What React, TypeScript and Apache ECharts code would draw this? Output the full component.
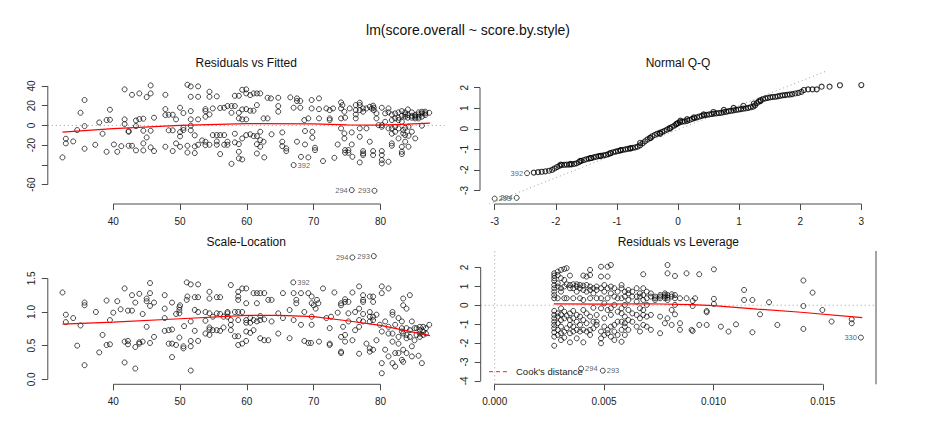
import React, { useEffect, useRef } from "react";
import * as echarts from "echarts";

const FONT = '"Liberation Sans", Arial, Helvetica, sans-serif';

const mainTitle = "lm(score.overall ~ score.by.style)";
const panelTitles = ["Residuals vs Fitted", "Normal Q-Q", "Scale-Location", "Residuals vs Leverage"];

// ---------- Panel 1: Residuals vs Fitted ----------
const fittedTicks = [40, 50, 60, 70, 80];
const residTicks = [-60, -40, -20, 0, 20, 40];
const residTickLabels = [-60, -20, 0, 20, 40];
// [fitted, residuals at that fitted value]
const residVsFitted: [number, number[]][] = [
  [32.4, [-32.4]], [32.9, [-13.5, -18.2]], [34.0, [-16.2]], [34.6, [-4.7]], [35.1, [12.8]],
  [35.7, [25.7, -0.7, -23.6]], [37.3, [-19.6]], [37.9, [3.0]], [38.4, [-8.4]], [39.0, [-26.7, 5.4]],
  [39.5, [5.7, 15.9]], [40.1, [-19.3]], [40.6, [-26.7]], [41.2, [-21.0]], [41.7, [36.5, 6.1, 1.4]],
  [42.3, [-5.7, -6.5, -20.6]], [42.8, [31.0, -20.6]], [43.4, [5.0, -0.7, -25.3]], [43.9, [32.4, 6.4]],
  [44.5, [6.8, -5.4, -25.3, -18.2]], [45.0, [28.7, -12.2]], [45.6, [40.5, 32.4, -5.4, -22.3]],
  [46.1, [7.8, -26.0]], [47.8, [31.0, 16.5, 10.5, -21.6]], [48.3, [10.8, -5.0]], [48.9, [10.8, -5.0, -26.0]],
  [49.4, [6.1, -18.2]], [50.0, [17.9, -6.8, -11.1, -21.6]], [50.5, [12.5, -4.7, -2.4]],
  [51.1, [41.2, -20.6, -27.4]], [51.6, [39.5, 29.0, 14.5, 6.1, -0.3, -5.0]], [52.2, [-10.1, -21.3, -28.0]],
  [52.7, [39.5, 29.0, 6.1, -19.6]], [53.3, [-15.2]], [53.8, [16.5, 14.5, 8.8, -16.5, -20.0]],
  [54.4, [34.1, 29.0, 11.1, -19.6]], [54.9, [17.2, -9.8]], [55.5, [29.4, -9.8, -16.2, -19.6]],
  [56.0, [17.6, -9.8, -29.0]], [56.6, [17.9, -9.8, -19.6]], [57.1, [19.6, -16.5, -19.6]],
  [57.7, [19.6, 12.8, -38.9]], [58.2, [19.6, 30.0, -8.4, -17.2]], [58.8, [30.0, 12.8, 7.1, -18.9, -26.7, -33.4]],
  [59.3, [36.1, 16.2, 6.1, -13.2, -34.5]], [59.9, [36.5, 32.4, -9.8, 16.5, 6.1]], [60.5, [30.7, 14.9, -9.0]],
  [61.0, [32.4, 14.9, -10.8]], [61.5, [32.4, 20.6, -10.8, -19.0, -28.4]], [62.0, [32.4, -6.4, -14.9, -21.6]],
  [62.5, [7.1, -16.5]], [62.6, [-32.4]], [63.1, [7.1, 28.0]], [63.6, [27.4]], [63.7, [-9.0]],
  [64.7, [28.0, 19.6, 13.9]], [65.3, [-7.1, -16.5, -21.0]], [65.9, [-23.3, -26.0]], [66.5, [28.4]],
  [67.0, [17.9]], [67.5, [27.4, 24.7, -16.5]], [68.0, [24.7, 17.9]], [68.1, [-31.8]], [68.6, [5.4]],
  [68.7, [-5.7, -19.3]], [69.2, [-32.4, 7.1]], [69.7, [25.7, 17.2]], [69.8, [-6.4, -12.5]],
  [70.2, [-22.6, -25.0]], [70.8, [27.4, 16.5, 7.1]], [71.4, [-36.1]], [71.9, [17.2]], [72.4, [15.5, 7.1, 5.4]],
  [72.9, [17.2]], [73.1, [-32.8]], [73.6, [-19.3]], [74.1, [23.3, 17.2, 7.1, -3.0]], [74.3, [20.6]],
  [74.6, [13.9, -8.1, -13.2]], [74.7, [7.8, -25.0, -27.7]], [75.2, [-25.0, -27.7]], [75.4, [17.2]],
  [75.7, [-19.3, -7.1]], [75.8, [-31.8]], [76.3, [20.6, 15.5, 11.1, 7.1]],
  [76.9, [23.0, 20.6, 15.5, -3.0, -11.5, -37.5]], [77.4, [17.2, 13.9, -26.0, -28.4, -30.0]],
  [77.9, [17.2, -3.0]], [78.4, [18.9, -16.5]], [78.7, [17.0]], [78.9, [20.0, -26.0, -30.0]], [79.0, [18.0, 15.5]],
  [79.4, [12.2, 7.1]], [79.7, [0.3]], [80.2, [17.9, 0.3, -1.4, -26.0, -30.0, -35.1, -38.5]], [80.7, [12.2, 3.7]],
  [81.2, [17.2, 13.2, -3.0, -36.8]], [81.7, [11.1, 5.4, -3.0, -8.4, -18.2, -20.6]], [82.2, [12.2, 7.1, -1.4, -6.4]],
  [82.7, [13.2, 7.8, 5.4, -3.0, -13.2]], [83.2, [14.5, 9.8, 3.7, -21.6, -26.7, -29.0]], [83.4, [-4.7, -8.1]],
  [83.7, [13.2, 11.1, 8.8, -2.4, -9.8, -16.5]], [84.1, [16.2, 10.5, 7.8]], [84.2, [-1.4, -10.5, -21.6]],
  [84.7, [13.2, 9.8, 7.8, -6.4]], [85.2, [10.5, 8.8, 7.1, -13.2]], [85.7, [13.2, 11.1, 8.8, 7.1]],
  [86.2, [13.9, 12.2, 8.8, -0.3]], [86.7, [13.9, 12.2, 10.5]], [87.3, [12.8]],
];
const residVsFittedIds = [
  { name: "392", value: [67.0, -40.2], side: "right" },
  { name: "294", value: [75.7, -65.5], side: "left" },
  { name: "293", value: [79.1, -66.2], side: "left" },
];
const residLowess = [[32.4, -6.8], [40, -3.2], [50, 0], [60, 1.8], [70, 1.5], [75, 0.5], [80, 0.3], [84, 1.2], [87.4, 2.4]];

// ---------- Panel 2: Normal Q-Q ----------
const qqTicksX = [-3, -2, -1, 0, 1, 2, 3];
const qqTicksY = [-3, -2, -1, 0, 1, 2];
const qqPoints = [
  [-2.36, -2.13], [-2.29, -2.11], [-2.23, -2.09], [-2.17, -2.07], [-2.11, -2.04], [-2.06, -2.0], [-2.02, -1.93],
  [-1.98, -1.86], [-1.94, -1.8], [-1.92, -1.74], [-1.9, -1.76], [-1.86, -1.75], [-1.82, -1.74], [-1.78, -1.74],
  [-1.76, -1.71], [-1.74, -1.73], [-1.7, -1.71], [-1.66, -1.68], [-1.62, -1.62], [-1.6, -1.56], [-1.58, -1.56],
  [-1.54, -1.52], [-1.5, -1.48], [-1.46, -1.45], [-1.43, -1.43], [-1.42, -1.42], [-1.38, -1.39], [-1.34, -1.36],
  [-1.3, -1.33], [-1.27, -1.33], [-1.26, -1.31], [-1.22, -1.29], [-1.18, -1.27], [-1.14, -1.23], [-1.11, -1.19],
  [-1.1, -1.18], [-1.06, -1.14], [-1.02, -1.11], [-0.98, -1.08], [-0.94, -1.05], [-0.94, -1.04], [-0.9, -1.02],
  [-0.86, -1.0], [-0.82, -0.98], [-0.78, -0.94], [-0.78, -0.96], [-0.74, -0.93], [-0.7, -0.9], [-0.66, -0.87],
  [-0.62, -0.8], [-0.62, -0.68], [-0.58, -0.71], [-0.54, -0.61], [-0.5, -0.52], [-0.46, -0.44], [-0.45, -0.45],
  [-0.42, -0.36], [-0.38, -0.3], [-0.34, -0.24], [-0.29, -0.24], [-0.3, -0.2], [-0.26, -0.15], [-0.22, -0.1],
  [-0.18, -0.04], [-0.14, 0.03], [-0.13, 0.01], [-0.1, 0.09], [-0.06, 0.16], [-0.03, 0.22], [-0.02, 0.25],
  [0.0, 0.28], [0.03, 0.32], [0.04, 0.4], [0.07, 0.35], [0.11, 0.36], [0.15, 0.39], [0.15, 0.47], [0.19, 0.43],
  [0.23, 0.48], [0.26, 0.56], [0.27, 0.52], [0.31, 0.56], [0.35, 0.6], [0.39, 0.63], [0.42, 0.7], [0.43, 0.66],
  [0.47, 0.68], [0.51, 0.7], [0.55, 0.72], [0.58, 0.82], [0.59, 0.74], [0.63, 0.75], [0.67, 0.77], [0.71, 0.78],
  [0.75, 0.81], [0.75, 0.92], [0.79, 0.83], [0.83, 0.86], [0.87, 0.88], [0.91, 0.9], [0.91, 1.02], [0.95, 0.92],
  [0.99, 0.94], [1.03, 0.96], [1.07, 0.98], [1.07, 1.12], [1.11, 0.99], [1.15, 1.02], [1.19, 1.05], [1.23, 1.08],
  [1.24, 1.23], [1.26, 1.14], [1.29, 1.25], [1.32, 1.33], [1.35, 1.4], [1.35, 1.35], [1.39, 1.44], [1.43, 1.48],
  [1.47, 1.51], [1.51, 1.53], [1.55, 1.55], [1.59, 1.56], [1.63, 1.58], [1.67, 1.61], [1.71, 1.63], [1.75, 1.64],
  [1.79, 1.66], [1.83, 1.67], [1.87, 1.69], [1.92, 1.72], [1.97, 1.75], [2.02, 1.8], [2.06, 1.89], [2.13, 1.92],
  [2.2, 1.92], [2.27, 1.92], [2.35, 2.05], [2.48, 2.05], [2.65, 2.12], [3.0, 2.13],
];
const qqIds = [
  { name: "293", value: [-3.0, -3.4], side: "right" },
  { name: "294", value: [-2.64, -3.36], side: "left" },
  { name: "392", value: [-2.47, -2.16], side: "left" },
];
const qqLine = [[-3.09, -3.66], [2.41, 2.79]];

// ---------- Panel 3: Scale-Location ----------
const sqrtTicks = [0, 0.5, 1, 1.5];
const scaleLocation: [number, number[]][] = [
  [32.4, [1.29]], [32.9, [0.96, 0.85]], [34.0, [0.91]], [34.6, [0.5]], [35.1, [0.8]], [35.7, [1.14, 1.1, 0.21]],
  [37.4, [1.0]], [37.9, [0.4]], [38.4, [0.66]], [39.0, [1.17, 0.51]], [39.5, [0.88, 0.52]], [40.0, [0.99]],
  [40.6, [1.16]], [41.1, [1.04]], [41.7, [1.35, 0.56, 0.25]], [42.2, [1.02, 0.57, 0.52]], [42.8, [1.25, 1.02]],
  [43.3, [0.48, 0.16, 1.14]], [43.9, [1.27, 0.55, 0.53]], [44.4, [0.97, 0.56]], [45.0, [1.16, 1.2, 0.78]],
  [45.5, [1.43, 1.28, 0.54, 1.09]], [46.1, [1.14, 0.63]], [47.7, [1.25, 1.05, 0.91, 0.72]], [48.3, [0.73, 0.53]],
  [48.8, [1.14, 0.74, 0.53, 0.33]], [49.4, [0.97, 0.51]], [49.9, [1.07, 1.03, 0.62, 0.98]], [50.0, [1.1]],
  [50.5, [0.49, 0.46]], [50.6, [0.79]], [51.0, [1.44, 1.18]], [51.1, [1.23]], [51.6, [1.41, 0.86, 0.57, 0.49, 0.13]],
  [52.2, [1.22, 1.03, 0.72]], [52.7, [1.41, 1.22, 1.0, 0.57]], [53.8, [1.0, 0.87, 0.68]],
  [54.4, [1.3, 1.2, 0.98, 0.77, 0.66, 0.74]], [54.9, [0.93, 0.73]], [55.5, [1.22, 0.98, 0.73]],
  [56.0, [1.22, 0.97, 0.72]], [56.5, [0.93, 0.77]], [57.1, [1.0, 0.98, 0.93]], [57.6, [1.4, 0.88, 0.73, 0.81]],
  [58.2, [1.0, 0.64]], [58.7, [1.3, 1.23, 1.18, 1.0, 0.88, 0.64, 0.51]], [59.3, [1.35, 1.0, 0.53]],
  [59.9, [1.35, 1.13, 0.88, 0.84, 0.71, 0.57]], [60.5, [0.91, 0.84, 0.69]], [61.0, [1.28, 0.88, 0.73]],
  [61.5, [1.28, 1.13, 0.86]], [62.0, [1.28, 0.61, 0.94, 0.88]], [62.6, [1.28, 0.58, 0.89]], [63.2, [1.18, 0.58]],
  [63.7, [1.18, 0.86]], [64.7, [0.98, 0.68]], [65.4, [1.28, 0.91]], [66.4, [1.03, 0.61]], [67.0, [1.28, 0.88]],
  [67.4, [1.18, 1.13]], [68.1, [1.28, 0.81]], [68.6, [1.0, 0.57]], [69.2, [1.28, 0.54]], [69.6, [0.54]],
  [69.7, [1.23, 1.13, 0.93, 0.81]], [70.0, [1.1]], [70.3, [1.05]], [70.5, [1.18]], [70.7, [1.13]], [70.8, [0.56]],
  [71.4, [1.35]], [71.9, [0.91]], [72.4, [0.76, 0.53, 0.51]], [72.6, [0.93]], [73.1, [1.29]], [73.6, [0.99]],
  [74.1, [1.13, 1.1, 0.63, 0.41, 0.39]], [74.4, [0.78]], [74.7, [0.66, 0.56, 1.19, 1.15]], [75.2, [1.15, 0.86, 0.98]],
  [75.8, [1.29, 0.58]], [76.2, [1.0, 0.73]], [76.8, [1.38, 1.05, 0.88, 0.78, 0.38]],
  [77.4, [1.25, 1.18, 1.15, 0.97, 0.86]], [77.9, [0.53]], [78.4, [1.23, 1.0, 0.93, 0.86, 0.46, 0.41]],
  [78.9, [1.23, 1.15, 0.93, 0.88, 0.44]], [79.4, [0.96, 0.58]], [79.9, [0.81]], [80.2, [1.38, 1.28, 0.71, 0.24, 0.09]],
  [80.7, [0.86, 0.44]], [81.2, [1.35, 0.78, 0.68, 0.34]], [81.8, [1.0, 0.96, 0.68, 0.56, 0.24]],
  [82.2, [0.81, 0.39, 0.19]], [82.7, [0.91, 0.63, 0.53, 0.39]], [83.2, [0.86, 0.76, 0.71, 0.29]],
  [83.4, [1.2, 1.1, 0.68, 0.44, 0.26]], [83.9, [1.05, 0.76, 0.66, 0.61, 0.39]], [84.4, [1.25, 0.73, 0.63]],
  [84.7, [0.86, 0.49, 0.34]], [85.1, [0.76, 0.58]], [85.4, [0.76, 0.66]], [85.7, [0.35]],
  [85.9, [0.78, 0.73, 0.68, 0.63]], [86.2, [0.24]], [86.4, [0.78, 0.71, 0.66]], [86.8, [0.76, 0.68]], [87.3, [0.81]],
];
const scaleLocationIds = [
  { name: "392", value: [66.95, 1.44], side: "right" },
  { name: "294", value: [75.8, 1.81], side: "left" },
  { name: "293", value: [79.0, 1.83], side: "left" },
];
const scaleLowess = [[32.4, 0.82], [40, 0.85], [50, 0.9], [60, 0.95], [65, 0.95], [70, 0.93], [75, 0.87], [80, 0.8], [84, 0.72], [87.4, 0.65]];

// ---------- Panel 4: Residuals vs Leverage ----------
const levTicks = [0, 0.005, 0.01, 0.015];
const stdResTicks = [-4, -3, -2, -1, 0, 1, 2];
const resVsLeverage: [number, number[]][] = [
  [0.00272, [1.69, 1.57, 1.43, 1.29, 1.07, 0.9, 0.72, 0.54, 0.37, -0.3, -0.51, -0.69, -0.87, -1.04, -1.22, -1.43, -1.66, -2.14]],
  [0.00288, [1.78, 1.6, 1.16, 0.99, 0.37, -0.43, -0.6, -0.95, -1.3, -1.57]],
  [0.00303, [1.87, 1.43, 0.9, 0.72, -0.16, -0.48, -0.78, -1.13, -1.48, -1.84]],
  [0.00318, [1.92, 1.34, 0.99, 0.37, -0.34, -0.69, -1.39, -1.71]],
  [0.00329, [1.96, 1.11, 0.37, -0.55, -1.22]],
  [0.00344, [1.57, 1.07, 0.9, -0.43, -0.78, -1.04, -1.48, -1.96]],
  [0.00359, [1.11, 0.9, 0.37, -0.3, -0.69, -1.13, -1.39]],
  [0.00375, [1.11, 0.99, 0.72, -0.51, -0.87, -1.3, -1.75]],
  [0.0039, [1.07, 0.9, 0.37, -0.6, -1.04, -1.39]],
  [0.00405, [1.57, 1.04, 0.81, 0.28, -0.25, -0.78, -1.3, -1.96]],
  [0.0042, [1.52, 1.07, 0.72, -0.43, -0.95, -1.39]],
  [0.00436, [1.87, 1.6, 0.99, 0.81, 0.37, -0.6, -1.3, -1.57]],
  [0.00451, [0.9, 0.63, -0.13, -0.87, -1.22]],
  [0.00466, [0.99, 0.81, 0.37, -0.51, -0.87, -1.04]],
  [0.00486, [2.04, 1.52, 0.9, 0.37, -0.16, -1.39, -1.75, -2.01]],
  [0.00501, [1.07, 0.72, 0.1, -0.69, -1.13, -1.57]],
  [0.00516, [2.04, 1.52, 0.9, 0.37, -0.25, -1.3, -1.48]],
  [0.00531, [2.13, 0.99, 0.63, -0.16, -0.51, -1.13, -1.66]],
  [0.00547, [0.9, 0.46, 0.02, -1.04, -1.39, -1.84]],
  [0.00562, [0.72, 0.37, -0.34, -0.87, -1.57]],
  [0.0058, [1.07, 0.9, 0.37, -0.16, -0.43, -0.87, -1.3, -1.93]],
  [0.00595, [0.72, 0.46, 0.02, -0.6, -0.95, -1.13, -1.57]],
  [0.00611, [0.81, 0.63, 0.28, -0.25, -0.78, -1.3]],
  [0.00629, [0.72, 0.46, -0.43, -0.87]],
  [0.00649, [0.9, 0.46, 0.19, -0.51, -1.13]],
  [0.00664, [0.63, 0.46, -0.16, -0.69, -1.39]],
  [0.00679, [1.64, 0.9, 0.54, 0.28, -0.25, -0.51, -1.04]],
  [0.00695, [0.72, 0.37, 0.02, -0.6, -1.13]],
  [0.00714, [0.63, 0.46, -0.51, -1.3]],
  [0.00733, [0.46, 0.37, 0.28]],
  [0.00756, [0.54, 0.46, 0.37, -0.6, -1.48]],
  [0.00778, [0.63, 0.54, 0.46, 0.37, -0.95]],
  [0.0079, [2.13, 1.69, 0.54, 0.4, 0.28, -0.69]],
  [0.00809, [0.58, 0.46, -0.25, -1.04]],
  [0.00824, [1.55, 0.54, 0.37, 0.02, -0.48]],
  [0.00847, [0.37, -0.95, -1.3]],
  [0.00877, [1.69, 0.37]],
  [0.009, [-1.3]],
  [0.00905, [0.23, -0.04, -1.36]],
  [0.00916, [0.37]],
  [0.00935, [1.64, -1.04]],
  [0.00969, [-0.3, -0.37, -1.04]],
  [0.01002, [1.9, 0.34, 0.07]],
  [0.01034, [-1.13]],
  [0.01069, [-1.39]],
  [0.01103, [-1.01]],
  [0.0114, [0.81, 0.28]],
  [0.01178, [0.28, -1.43]],
  [0.01213, [-0.48]],
  [0.01254, [0.16]],
  [0.01292, [-1.04]],
  [0.01411, [1.31, -0.04, -1.25]],
  [0.01453, [0.67]],
  [0.01498, [-0.25]],
  [0.0154, [-0.86]],
  [0.01632, [-0.74, -0.95]],
];
const resVsLeverageIds = [
  { name: "294", value: [0.00395, -3.35], side: "right" },
  { name: "293", value: [0.00494, -3.46], side: "right" },
  { name: "330", value: [0.01674, -1.71], side: "left" },
];
const leverageLowess = [[0.0027, 0.07], [0.005, 0.06], [0.007, 0.08], [0.009, 0.03], [0.01, -0.02], [0.012, -0.2], [0.014, -0.37], [0.0168, -0.65]];
const cookLegend = "Cook's distance";

// ---------- layout ----------
const panels = [
  { left: 47.8, top: 71.5, width: 396.8, height: 132.5, x: [30.2, 89.6], y: [-79.6, 54.6] },
  { left: 480, top: 71.5, width: 396, height: 132.5, x: [-3.24, 3.24], y: [-3.66, 2.79] },
  { left: 47.8, top: 251, width: 396.8, height: 133.3, x: [30.2, 89.6], y: [-0.074, 1.906] },
  { left: 480.7, top: 251, width: 395.3, height: 133.3, x: [-0.00064, 0.01743], y: [-4.18, 2.87] },
];
const AXIS_COLOR = "#4a4a4a";
const TEXT_COLOR = "#222";

const flatten = (groups: [number, number[]][]) =>
  groups.flatMap(([x, ys]) => ys.map((y) => [x, y]));

function scatter(i: number, data: number[][], bw = 0.9) {
  return {
    type: "scatter",
    xAxisIndex: i,
    yAxisIndex: i,
    data,
    color: "#000",
    symbol: "circle",
    symbolSize: 5,
    silent: true,
    z: 4,
    itemStyle: { color: "rgba(0,0,0,0)", borderColor: "#000", borderWidth: bw },
  };
}

function idScatter(i: number, ids: { name: string; value: number[]; side: string }[]) {
  return {
    type: "scatter",
    xAxisIndex: i,
    yAxisIndex: i,
    color: "#000",
    symbol: "circle",
    symbolSize: 5,
    silent: true,
    z: 5,
    itemStyle: { color: "rgba(0,0,0,0)", borderColor: "#000", borderWidth: 0.9 },
    data: ids.map((d) => ({
      name: d.name,
      value: d.value,
      label: {
        show: true,
        position: d.side,
        distance: 1,
        formatter: "{b}",
        fontSize: 7.5,
        fontFamily: FONT,
        color: "#333333",
        textBorderWidth: 0,
        textShadowBlur: 0,
      },
    })),
  };
}

function line(i: number, data: number[][], color: string, width: number, type: any, clip = true, z = 3) {
  return {
    type: "line",
    xAxisIndex: i,
    yAxisIndex: i,
    data,
    color,
    symbol: "none",
    silent: true,
    clip,
    z,
    lineStyle: { color, width, type },
    emphasis: { disabled: true },
  };
}

function axisPair(i: number, xt: number[], yt: number[], yLabelVals: number[], xFmt: (v: number) => string, yFmt: (v: number) => string) {
  const p = panels[i];
  const xAxis = {
    gridIndex: i,
    type: "value",
    min: p.x[0],
    max: p.x[1],
    axisLine: { show: false, onZero: false },
    splitLine: { show: false },
    axisTick: { show: true, customValues: xt, length: 6, lineStyle: { color: AXIS_COLOR, width: 1 } },
    axisLabel: { show: true, customValues: xt, formatter: xFmt, margin: 12, fontSize: 10, fontFamily: FONT, color: TEXT_COLOR },
  };
  const yAxis = {
    gridIndex: i,
    type: "value",
    min: p.y[0],
    max: p.y[1],
    axisLine: { show: false, onZero: false },
    splitLine: { show: false },
    axisTick: { show: true, customValues: yt, length: 6, lineStyle: { color: AXIS_COLOR, width: 1 } },
    axisLabel: { show: true, customValues: yLabelVals, formatter: yFmt, rotate: 90, margin: 11, fontSize: 10, fontFamily: FONT, color: TEXT_COLOR },
  };
  // R-style axis lines from first to last tick, drawn through the axes' own scales
  const xLine = line(i, [[xt[0], p.y[0]], [xt[xt.length - 1], p.y[0]]], AXIS_COLOR, 1, "solid", false, 6);
  const yLine = line(i, [[p.x[0], yt[0]], [p.x[0], yt[yt.length - 1]]], AXIS_COLOR, 1, "solid", false, 6);
  return { xAxis, yAxis, lines: [xLine, yLine] };
}

export default function App() {
  const ref = useRef<HTMLDivElement>(null);

  useEffect(() => {
    if (!ref.current) return;
    const chart = echarts.init(ref.current, undefined, { renderer: "svg" });

    const a0 = axisPair(0, fittedTicks, residTicks, residTickLabels, (v) => String(v), (v) => String(v));
    const a1 = axisPair(1, qqTicksX, qqTicksY, qqTicksY, (v) => String(v), (v) => String(v));
    const a2 = axisPair(2, fittedTicks, sqrtTicks, sqrtTicks, (v) => String(v), (v) => v.toFixed(1));
    const a3 = axisPair(3, levTicks, stdResTicks, stdResTicks, (v) => v.toFixed(3), (v) => String(v));

    const dotted = [1, 3];
    const p0 = panels[0];
    const p3 = panels[3];

    const titleY = [62.7, 62.7, 242.3, 242.3];
    const graphic: any[] = [
      {
        type: "text",
        x: 468,
        y: 30,
        silent: true,
        style: { text: mainTitle, font: `14px ${FONT}`, fill: "#111", textAlign: "center", textVerticalAlign: "middle", align: "center", verticalAlign: "middle" },
      },
      ...panelTitles.map((t, i) => ({
        type: "text",
        x: panels[i].left + panels[i].width / 2,
        y: titleY[i],
        silent: true,
        style: { text: t, font: `12px ${FONT}`, fill: "#111", textAlign: "center", textVerticalAlign: "middle", align: "center", verticalAlign: "middle" },
      })),
      {
        type: "line",
        silent: true,
        shape: { x1: 489, y1: 371.7, x2: 507, y2: 371.7 },
        style: { stroke: "#ff2020", lineWidth: 1, lineDash: [4, 3] },
      },
      {
        type: "text",
        x: 516,
        y: 371.7,
        silent: true,
        style: { text: cookLegend, font: `9.5px ${FONT}`, fill: "#222", textAlign: "left", textVerticalAlign: "middle", align: "left", verticalAlign: "middle" },
      },
    ];

    const option: any = {
      animation: false,
      backgroundColor: "#fff",
      color: ["#000"],
      grid: panels.map((p) => ({ left: p.left, top: p.top, width: p.width, height: p.height, containLabel: false })),
      xAxis: [a0.xAxis, a1.xAxis, a2.xAxis, a3.xAxis],
      yAxis: [a0.yAxis, a1.yAxis, a2.yAxis, a3.yAxis],
      graphic,
      series: [
        ...a0.lines, ...a1.lines, ...a2.lines, ...a3.lines,
        // panel 1
        line(0, [[p0.x[0], 0], [p0.x[1], 0]], "#9a9a9a", 1, dotted),
        scatter(0, flatten(residVsFitted)),
        idScatter(0, residVsFittedIds),
        line(0, residLowess, "#ff0000", 1.2, "solid", true, 5),
        // panel 2
        line(1, qqLine, "#9a9a9a", 1, dotted),
        scatter(1, qqPoints, 1.1),
        idScatter(1, qqIds),
        // panel 3
        scatter(2, flatten(scaleLocation)),
        idScatter(2, scaleLocationIds),
        line(2, scaleLowess, "#ff0000", 1.2, "solid", true, 5),
        // panel 4
        line(3, [[p3.x[0], 0], [p3.x[1], 0]], "#9a9a9a", 1, dotted),
        line(3, [[0, p3.y[0]], [0, p3.y[1]]], "#9a9a9a", 1, dotted),
        line(3, [[p3.x[1], p3.y[0]], [p3.x[1], p3.y[1]]], AXIS_COLOR, 1, "solid", false, 6),
        scatter(3, flatten(resVsLeverage)),
        idScatter(3, resVsLeverageIds),
        line(3, leverageLowess, "#ff0000", 1.2, "solid", true, 5),
      ],
    };

    chart.setOption(option);
    return () => chart.dispose();
  }, []);

  return (
    <div
      ref={ref}
      style={{ position: "fixed", left: 0, top: 0, width: 936, height: 432, background: "#fff" }}
    />
  );
}
